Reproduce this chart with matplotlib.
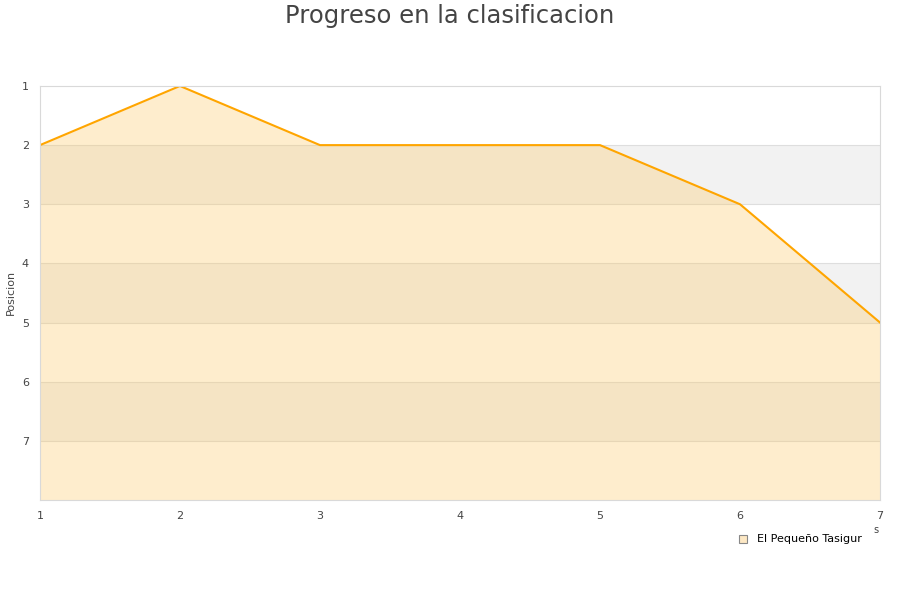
import matplotlib.pyplot as plt
from matplotlib.patches import Rectangle

jornadas = [1, 2, 3, 4, 5, 6, 7]
posicion = [2, 1, 2, 2, 2, 3, 5]
equipo = 'El Pequeño Tasigur'
yticks = [1, 2, 3, 4, 5, 6, 7]

fig = plt.figure(figsize=(9, 6), dpi=100)
ax = fig.add_axes([0.0444, 0.1667, 0.9334, 0.69])

# bandas alternas
for y0 in [2, 4, 6]:
    ax.axhspan(y0, y0 + 1, color='#f2f2f2', zorder=0, lw=0)
for y in range(2, 8):
    ax.axhline(y, color='#dedede', lw=0.8, zorder=0.5)

ax.fill_between(jornadas, posicion, 8, color=(252/255, 197/255, 90/255), alpha=0.3,
                lw=0, zorder=1)
ax.plot(jornadas, posicion, color='#ffa500', lw=1.5, zorder=2)

ax.set_xlim(1, 7)
ax.set_ylim(8, 1)
ax.set_yticks(yticks)
ax.set_xticks(jornadas)
ax.tick_params(length=0, labelsize=8, labelcolor='#444444', pad=8)
for s in ax.spines.values():
    s.set_color('#d9d9d9')

fig.text(0.012, 0.513, 'Posicion', rotation=90, fontsize=8, color='#444444',
         ha='center', va='center')
fig.text(0.5, 0.974, 'Progreso en la clasificacion', ha='center', va='center',
         fontsize=17.5, color='#444444')
fig.text(0.973, 0.112, 's', fontsize=7, color='#444444', ha='center')

fig.add_artist(Rectangle((0.8215, 0.0955), 0.0085, 0.0125, transform=fig.transFigure,
                         facecolor='#fde8c4', edgecolor='#888888', lw=0.8))
fig.text(0.841, 0.101, equipo, fontsize=8, color='#000000', va='center')

fig.savefig('out.png')
